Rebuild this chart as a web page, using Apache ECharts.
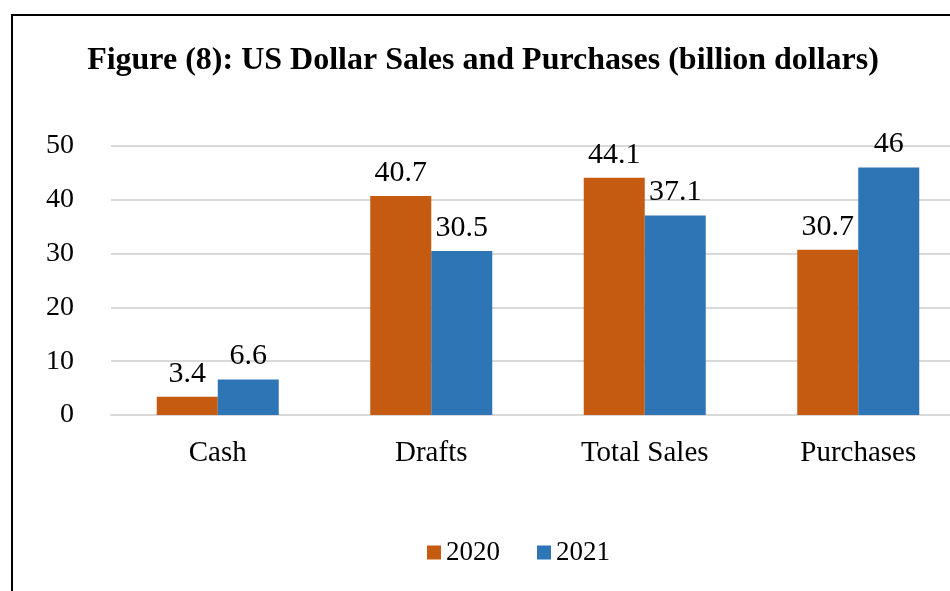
<!DOCTYPE html>
<html>
<head>
<meta charset="utf-8">
<script src="https://cdn.jsdelivr.net/npm/echarts@6/dist/echarts.min.js"></script>
<style>
  html, body { margin: 0; padding: 0; background: #fff; }
  #chart { width: 950px; height: 591px; }
</style>
</head>
<body>
<div id="chart"></div>
<script>
// Categories and yearly values (billion dollars)
const categories = ['Cash', 'Drafts', 'Total Sales', 'Purchases'];
const values2020 = [3.4, 40.7, 44.1, 30.7];
const values2021 = [6.6, 30.5, 37.1, 46];
const seriesNames = ['2020', '2021'];
const yTicks = [0, 10, 20, 30, 40, 50];

const FONT = '"Liberation Serif", "Times New Roman", serif';
const chart = echarts.init(document.getElementById('chart'));

const labelStyle = {
  show: true,
  position: 'top',
  distance: 8,
  color: '#000',
  fontFamily: FONT,
  fontSize: 30
};

chart.setOption({
  backgroundColor: '#fff',
  animation: false,
  title: {
    text: 'Figure (8): US Dollar Sales and Purchases (billion dollars)',
    left: 478,
    textAlign: 'center',
    top: 40,
    textStyle: { fontFamily: FONT, fontWeight: 'bold', fontSize: 32, color: '#000' }
  },
  graphic: [{
    type: 'rect',
    shape: { x: 12, y: 15, width: 1000, height: 1000 },
    style: { fill: 'none', stroke: '#000', lineWidth: 2 },
    silent: true
  }],
  legend: {
    data: seriesNames,
    bottom: 20,
    left: 422,
    icon: 'rect',
    itemWidth: 14,
    itemHeight: 14,
    itemGap: 37,
    textStyle: { fontFamily: FONT, fontSize: 27, color: '#000' }
  },
  // plot area runs past the right edge of the frame
  grid: { left: 111, width: 854, top: 146, bottom: 176, outerBoundsMode: 'none' },
  xAxis: {
    type: 'category',
    data: categories,
    axisLine: { show: true, lineStyle: { color: '#d9d9d9', width: 2 } },
    axisTick: { show: false },
    axisLabel: { color: '#000', fontFamily: FONT, fontSize: 29, margin: 24 }
  },
  yAxis: {
    type: 'value',
    min: yTicks[0],
    max: yTicks[yTicks.length - 1],
    interval: 10,
    axisLine: { show: false },
    axisTick: { show: false },
    splitLine: { lineStyle: { color: '#d9d9d9', width: 2 } },
    axisLabel: { color: '#000', fontFamily: FONT, fontSize: 28, margin: 37 }
  },
  series: [
    {
      name: seriesNames[0],
      type: 'bar',
      data: values2020,
      barWidth: 61,
      barGap: '0%',
      itemStyle: { color: '#c55a11' },
      label: labelStyle
    },
    {
      name: seriesNames[1],
      type: 'bar',
      data: values2021,
      barWidth: 61,
      barGap: '0%',
      itemStyle: { color: '#2e75b6' },
      label: labelStyle
    }
  ]
});
</script>
</body>
</html>
